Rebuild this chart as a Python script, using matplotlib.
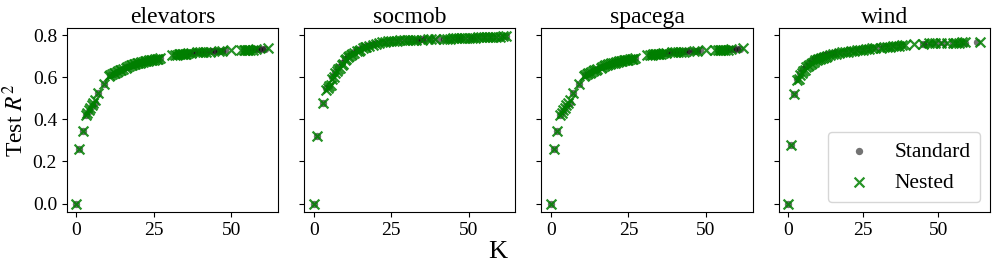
import matplotlib
matplotlib.use("Agg")
import matplotlib.pyplot as plt

plt.rcParams['font.family'] = ['Liberation Serif', 'DejaVu Serif']
plt.rcParams['mathtext.fontset'] = 'stix'

titles = ["elevators", "socmob", "spacega", "wind"]

# elevators
elev_std_k = [0, 1, 2, 3, 4, 5, 6, 7, 9, 11, 12, 13, 14, 15, 16, 17, 18, 19, 20, 21, 22, 23, 24, 25, 26, 27,
              32, 33, 34, 35, 36, 37, 38, 39, 40, 41, 42, 43, 44, 45, 46, 47, 48, 54, 55, 56, 57, 58, 59, 60, 61]
elev_std_r = [0.0, 0.26, 0.345, 0.42, 0.44, 0.465, 0.48, 0.525, 0.57, 0.61, 0.615, 0.625, 0.635, 0.64, 0.65, 0.655,
              0.66, 0.665, 0.67, 0.672, 0.675, 0.68, 0.682, 0.685, 0.688, 0.69,
              0.705, 0.708, 0.71, 0.712, 0.714, 0.716, 0.72, 0.72, 0.721, 0.722, 0.722, 0.724, 0.725, 0.726, 0.726,
              0.727, 0.728, 0.73, 0.731, 0.732, 0.733, 0.733, 0.734, 0.735, 0.736]
elev_nest_k = [0, 1, 2, 3, 3.5, 4, 4.5, 5, 5.5, 6, 7, 9, 10.5, 11, 11.5, 12, 12.5, 13, 13.5, 14, 14.5, 15, 16,
               16.5, 17, 17.5, 18, 18.5, 19, 19.5, 20, 20.5, 21, 21.5, 22, 22.5, 23, 23.5, 24, 24.5, 25, 25.5, 26,
               26.5, 27, 31, 32, 32.5, 33, 33.5, 34, 34.5, 35, 35.5, 36, 37, 39, 40, 41, 42, 43, 46, 47, 50,
               53, 54, 54.5, 55, 55.5, 56, 57, 58, 62]
elev_nest_r = [0.0, 0.26, 0.345, 0.42, 0.43, 0.445, 0.455, 0.47, 0.48, 0.49, 0.525, 0.57, 0.605, 0.61, 0.615, 0.62,
               0.622, 0.625, 0.63, 0.635, 0.637, 0.64, 0.645, 0.65, 0.655, 0.66, 0.66, 0.662, 0.665, 0.667, 0.668,
               0.67, 0.672, 0.674, 0.676, 0.677, 0.678, 0.68, 0.682, 0.683, 0.684, 0.686, 0.686, 0.688, 0.69,
               0.705, 0.706, 0.707, 0.71, 0.71, 0.711, 0.712, 0.712, 0.713, 0.714, 0.716, 0.718, 0.72, 0.72, 0.721,
               0.722, 0.725, 0.727, 0.73, 0.73, 0.73, 0.73, 0.731, 0.731, 0.732, 0.732, 0.733, 0.737]

# socmob
soc_std_k = [0, 1, 3, 4, 5, 6, 7, 8, 9, 10, 11, 12, 13, 14, 15, 16, 17, 18, 19, 20, 22, 24, 26, 28, 30, 32, 33, 34,
             35, 36, 38, 40, 42, 44, 46, 47, 48, 50, 51, 52, 54, 56, 58, 60, 62]
soc_std_r = [0.0, 0.32, 0.48, 0.55, 0.56, 0.6, 0.625, 0.65, 0.67, 0.685, 0.7, 0.71, 0.72, 0.73, 0.735, 0.745, 0.75,
             0.755, 0.76, 0.765, 0.768, 0.77, 0.773, 0.775, 0.776, 0.777, 0.778, 0.779, 0.78, 0.78, 0.781, 0.782,
             0.783, 0.784, 0.785, 0.787, 0.788, 0.789, 0.789, 0.79, 0.79, 0.791, 0.792, 0.793, 0.795]
soc_nest_k = [0, 1, 3, 4, 4.5, 5, 5.5, 6, 6.5, 7, 7.5, 8, 8.5, 9, 9.5, 10, 10.5, 11, 11.5, 12, 12.5, 13, 14, 14.5,
              15, 16, 16.5, 17, 18, 19, 20, 21, 22, 23, 24, 25, 26, 27, 28, 29, 30, 31, 32, 33, 35, 37, 38, 39, 42,
              43, 44, 45, 46, 47, 48, 49, 50, 51, 52, 53, 54, 55, 56, 57, 58, 59, 60, 61, 62]
soc_nest_r = [0.0, 0.32, 0.48, 0.54, 0.55, 0.56, 0.565, 0.59, 0.6, 0.62, 0.63, 0.64, 0.645, 0.66, 0.665, 0.68, 0.685,
              0.695, 0.7, 0.705, 0.71, 0.715, 0.725, 0.727, 0.73, 0.74, 0.742, 0.745, 0.75, 0.755, 0.76, 0.765,
              0.767, 0.77, 0.771, 0.772, 0.773, 0.774, 0.775, 0.775, 0.776, 0.776, 0.777, 0.778, 0.779, 0.78, 0.78,
              0.78, 0.783, 0.784, 0.784, 0.785, 0.786, 0.786, 0.787, 0.788, 0.788, 0.789, 0.789, 0.79, 0.79, 0.79,
              0.791, 0.791, 0.792, 0.792, 0.793, 0.794, 0.795]

# spacega
space_std_k = elev_std_k
space_std_r = list(elev_std_r)
space_nest_k = elev_nest_k
space_nest_r = list(elev_nest_r)

# wind
wind_std_k = [0, 1, 2, 3, 4, 5, 6, 7, 8, 9, 10, 11, 12, 13, 14, 15, 16, 18, 20, 22, 24, 26, 28, 30, 32, 34, 36, 38,
              45, 46, 48, 50, 52, 55, 57, 59, 63]
wind_std_r = [0.0, 0.28, 0.52, 0.59, 0.62, 0.64, 0.655, 0.67, 0.68, 0.69, 0.695, 0.70, 0.705, 0.71, 0.712, 0.715,
              0.718, 0.722, 0.728, 0.732, 0.735, 0.738, 0.74, 0.745, 0.748, 0.75, 0.752, 0.755, 0.76, 0.76, 0.762,
              0.763, 0.763, 0.765, 0.765, 0.765, 0.768]
wind_nest_k = [0, 1, 2, 3, 3.5, 4, 4.5, 5, 5.5, 6, 6.5, 7, 7.5, 8, 8.5, 9, 9.5, 10, 10.5, 11, 11.5, 12, 12.5, 13, 14,
               15, 16, 17, 18, 19, 20, 21, 22, 23, 24, 25, 26, 27, 28, 29, 31, 32, 33, 34, 35, 36, 37, 38, 39, 42,
               45, 47, 48, 49, 51, 53, 55, 56, 57, 58, 59, 64]
wind_nest_r = [0.0, 0.28, 0.52, 0.585, 0.59, 0.61, 0.62, 0.63, 0.635, 0.65, 0.655, 0.66, 0.665, 0.67, 0.675, 0.68,
               0.682, 0.685, 0.688, 0.69, 0.692, 0.695, 0.697, 0.70, 0.705, 0.71, 0.712, 0.715, 0.718, 0.72, 0.722,
               0.725, 0.727, 0.728, 0.73, 0.732, 0.733, 0.735, 0.737, 0.738, 0.74, 0.742, 0.744, 0.745, 0.747, 0.748,
               0.75, 0.752, 0.753, 0.756, 0.76, 0.761, 0.762, 0.762, 0.763, 0.764, 0.764, 0.765, 0.765, 0.766,
               0.766, 0.768]

std_k = [elev_std_k, soc_std_k, space_std_k, wind_std_k]
std_r = [elev_std_r, soc_std_r, space_std_r, wind_std_r]
nest_k = [elev_nest_k, soc_nest_k, space_nest_k, wind_nest_k]
nest_r = [elev_nest_r, soc_nest_r, space_nest_r, wind_nest_r]

fig, axes = plt.subplots(1, 4, figsize=(9.96, 2.71), dpi=100, sharey=True)
fig.subplots_adjust(left=0.067, right=0.994, top=0.897, bottom=0.218, wspace=0.123)

for i, ax in enumerate(axes):
    ax.scatter(std_k[i], std_r[i], marker='o', s=28, color='black', alpha=0.55, linewidths=0, label='Standard', zorder=2)
    ax.scatter(nest_k[i], nest_r[i], marker='x', s=50, color='green', alpha=0.85, linewidths=1.6, label='Nested', zorder=3)
    ax.set_title(titles[i], fontsize=17, pad=3)
    ax.set_xticks([0, 25, 50])
    ax.set_yticks([0.0, 0.2, 0.4, 0.6, 0.8])
    ax.tick_params(labelsize=14)

axes[0].set_ylabel('Test $R^2$', fontsize=17, labelpad=3)
fig.supxlabel('K', fontsize=19, y=0.03, va='bottom')
axes[3].legend(loc='lower right', fontsize=15.5, borderpad=0.45, labelspacing=0.5, handletextpad=0.65,
               borderaxespad=0.45)

fig.savefig('out.png', dpi=100)
